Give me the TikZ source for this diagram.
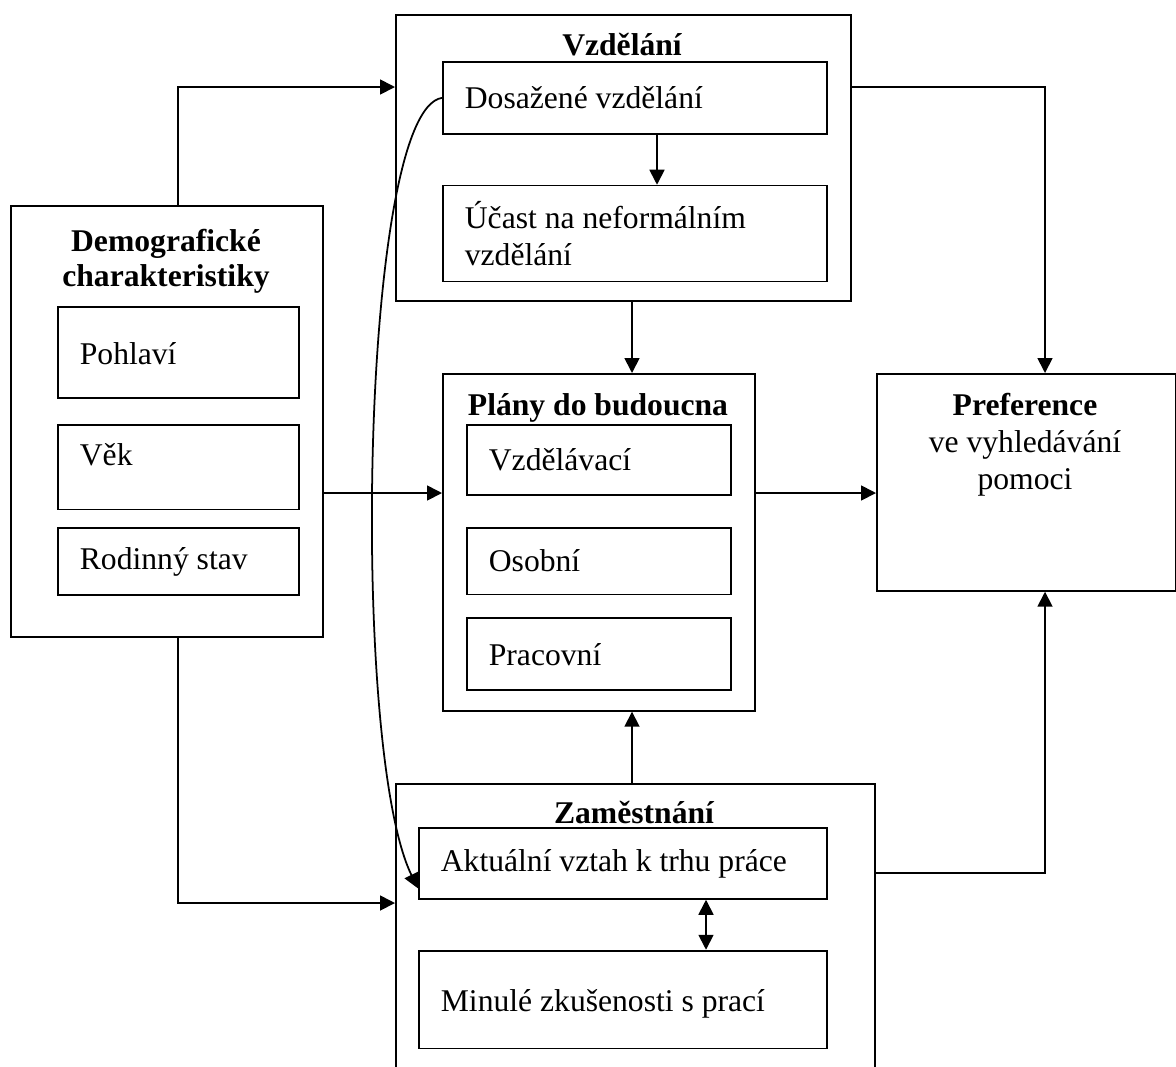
\documentclass[tikz,border=0pt]{standalone}
\usepackage{fontspec}
\setmainfont{Liberation Serif}
\usetikzlibrary{positioning,arrows.meta}

\begin{document}
\begin{tikzpicture}[x=0.02cm,y=-0.02cm,font=\fontsize{18}{21}\selectfont,
    >={Triangle[length=3mm,width=3mm]},
    bigbox/.style={draw,line width=1pt,anchor=north west,inner sep=0pt},
    smallbox/.style={draw,line width=1pt,anchor=north west,align=flush left,inner xsep=0.44cm,inner ysep=0pt},
    boxtitle/.style={font=\fontsize{18}{20}\selectfont\bfseries,align=center,inner sep=0pt},
    conn/.style={->,line width=1pt}]
    \useasboundingbox (0,0) rectangle (1176,1066);
    \clip (0,0) rectangle (1176,1066);

    % demograficke charakteristiky
    \node[bigbox,minimum width=6.24cm,minimum height=8.62cm] (demo) at (10,205) {};
    \node[boxtitle,anchor=north] (demotit) at (166,229) {Demografické\\charakteristiky};
    \node[smallbox,text width=3.94cm,minimum height=1.82cm,text height=0.5cm] (pohl) at (57,306) {Pohlaví};
    \node[smallbox,text width=3.94cm,minimum height=1.7cm,text depth=0.5cm,below=0.5cm of pohl] (vek) {Věk};
    \node[smallbox,text width=3.94cm,minimum height=1.34cm,below=0.34cm of vek] (rod) {Rodinný stav};

    % vzdelani
    \node[bigbox,minimum width=9.1cm,minimum height=5.72cm] (vzd) at (395,14) {};
    \node[boxtitle,anchor=base] (vzdtit) at (622,55) {Vzdělání};
    \node[smallbox,text width=6.8cm,minimum height=1.44cm] (dos) at (442,61) {Dosažené vzdělání};
    \node[smallbox,text width=6.8cm,minimum height=1.92cm,below=1cm of dos] (ucast) {Účast na neformálním\\vzdělání};

    % plany do budoucna
    \node[bigbox,minimum width=6.24cm,minimum height=6.74cm] (plany) at (442,373) {};
    \node[boxtitle,anchor=base] (planytit) at (598,415) {Plány do budoucna};
    \node[smallbox,text width=4.4cm,minimum height=1.4cm] (vzdel) at (466,424) {Vzdělávací};
    \node[smallbox,text width=4.4cm,minimum height=1.34cm,below=0.62cm of vzdel] (osob) {Osobní};
    \node[smallbox,text width=4.4cm,minimum height=1.44cm,below=0.44cm of osob] (prac) {Pracovní};

    % preference
    \node[bigbox,minimum width=5.98cm,minimum height=4.34cm] (pref) at (876,373) {};
    \node[align=center,inner sep=0pt,anchor=north] (preftxt) at (1025,393)
        {\textbf{Preference}\\ve vyhledávání\\pomoci};

    % zamestnani
    \node[bigbox,minimum width=9.58cm,minimum height=6.34cm] (zam) at (395,783) {};
    \node[boxtitle,anchor=base] (zamtit) at (634,823) {Zaměstnání};
    \node[smallbox,text width=7.28cm,minimum height=1.42cm] (akt) at (418,827) {Aktuální vztah k trhu práce};
    \node[smallbox,text width=7.28cm,minimum height=1.96cm,text height=0.6cm,below=1cm of akt] (min) {Minulé zkušenosti s prací};

    \draw[conn] (demo.north -| 178,0) |- (vzd.west |- 0,87);
    \draw[conn] (demo.east |- 0,493) -- (plany.west |- 0,493);
    \draw[conn] (demo.south -| 178,0) |- (zam.west |- 0,903);
    \draw[conn] (vzd.east |- 0,87) -| (pref.north -| 1045,0);
    \draw[conn] (plany.east |- 0,493) -- (pref.west |- 0,493);
    \draw[conn] (zam.east |- 0,873) -| (pref.south -| 1045,0);
    \draw[conn] (vzd.south -| 632,0) -- (plany.north -| 632,0);
    \draw[conn] (zam.north -| 632,0) -- (plany.south -| 632,0);
    \draw[conn] (dos.south -| 657,0) -- (ucast.north -| 657,0);
    \draw[conn,<->] (akt.south -| 706,0) -- (min.north -| 706,0);
    \draw[conn] (dos.west) .. controls (360,110) and (350,750) .. ([yshift=-0.5cm]akt.west);
\end{tikzpicture}
\end{document}
